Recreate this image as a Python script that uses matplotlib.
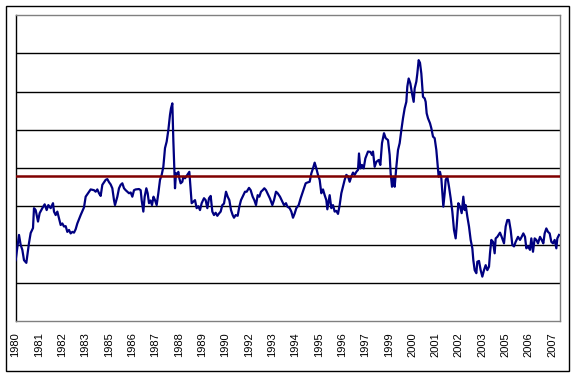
import matplotlib
matplotlib.use("Agg")
import matplotlib.pyplot as plt
from matplotlib.patches import Rectangle

# month offset from start of series, and ratio value
months = [0.1, 2.1, 3.1, 4.1, 5.1, 6.5, 8.1, 9.1, 10.5, 11.1, 12.1, 13.5, 14.5, 16.1, 17.5,
          18.7, 19.7, 21.1, 22.5, 23.1, 24.1, 25.1, 26.1, 27.1, 28.1, 29.1, 30.1, 31.1, 32.1,
          33.1, 34.1, 35.1, 36.1, 37.1, 39.1, 41.1, 42.1, 44.1, 45.1, 47.1, 48.1, 49.1, 50.1,
          51.1, 52.1, 54.1, 55.1, 56.1, 57.1, 58.1, 59.1, 59.7, 61.1, 62.1, 63.1, 64.1, 65.1,
          66.1, 67.1, 68.1, 69.1, 70.1, 71.1, 72.1, 74.1, 75.1, 75.7, 76.7, 77.5, 78.5, 79.3,
          80.1, 81.0, 81.9, 82.8, 83.7, 84.7, 85.7, 86.7, 87.7, 88.7, 89.7, 90.7, 91.7, 92.7,
          93.3, 94.1, 94.7, 95.3, 95.7, 96.3, 97.1, 97.7, 98.3, 99.1, 100.1, 100.7, 101.7,
          103.1, 104.3, 105.1, 105.7, 106.7, 107.7, 108.7, 109.7, 110.7, 111.7, 113.1, 114.1,
          115.1, 116.1, 117.1, 118.1, 119.1, 120.1, 121.1, 122.1, 123.1, 124.1, 125.1, 126.3,
          127.3, 128.3, 129.3, 130.3, 131.1, 132.1, 133.3, 134.3, 135.3, 136.3, 137.7, 138.7,
          140.1, 141.1, 142.3, 143.3, 144.3, 145.3, 146.3, 147.3, 148.3, 149.3, 150.3, 151.7,
          152.7, 154.1, 155.1, 156.3, 157.3, 158.7, 159.7, 161.1, 162.3, 163.1, 164.5, 165.5,
          166.5, 167.5, 168.5, 169.9, 171.1, 172.1, 173.1, 174.1, 175.1, 176.5, 177.5, 178.5,
          179.5, 180.5, 181.5, 182.5, 183.5, 184.5, 185.5, 186.5, 187.1, 188.5, 189.5, 190.5,
          191.5, 192.5, 193.5, 194.5, 195.5, 196.5, 197.5, 198.5, 199.5, 200.5, 201.5, 202.5,
          203.5, 204.5, 205.5, 206.1, 206.9, 207.9, 208.9, 209.9, 211.5, 212.9, 213.9, 214.5,
          215.5, 216.5, 217.9, 218.9, 219.9, 221.1, 222.1, 223.5, 224.5, 225.1, 225.9, 226.9,
          227.5, 228.5, 229.5, 230.5, 231.5, 232.5, 233.5, 234.5, 235.1, 235.9, 236.9, 237.9,
          238.9, 239.5, 240.5, 241.1, 241.9, 242.7, 243.5, 244.5, 245.5, 246.1, 246.7, 247.5,
          248.7, 249.5, 250.5, 251.5, 252.5, 253.1, 253.9, 254.7, 255.5, 256.1, 256.7, 257.5,
          258.1, 259.1, 260.1, 261.1, 262.1, 263.1, 264.1, 264.7, 265.7, 266.7, 267.7, 268.7,
          269.5, 270.1, 271.1, 272.1, 273.1, 274.1, 274.7, 275.5, 276.5, 277.1, 278.1, 279.1,
          280.1, 281.1, 282.1, 283.1, 284.1, 284.7, 285.5, 286.5, 287.5, 288.1, 289.1, 290.7,
          291.7, 293.1, 294.1, 295.1, 296.1, 297.1, 298.1, 299.1, 300.1, 301.5, 302.7, 303.7,
          304.7, 305.7, 306.5, 307.5, 308.7, 309.5, 310.5, 311.5, 312.5, 313.5, 314.7, 315.7,
          316.7, 317.5, 318.5, 319.5, 320.5, 321.5, 322.5, 323.5, 324.5, 325.1, 326.1]

values = [1.59, 2.25, 1.99, 1.86, 1.59, 1.52, 2.04, 2.30, 2.43, 2.95, 2.90, 2.60, 2.82, 2.95, 3.05,
          2.90, 3.03, 2.95, 3.08, 2.86, 2.77, 2.86, 2.68, 2.51, 2.55, 2.47, 2.48, 2.33, 2.38,
          2.29, 2.33, 2.31, 2.40, 2.55, 2.77, 2.97, 3.25, 3.38, 3.44, 3.42, 3.38, 3.44, 3.34,
          3.27, 3.56, 3.69, 3.71, 3.63, 3.57, 3.47, 3.16, 3.03, 3.25, 3.47, 3.56, 3.60, 3.47,
          3.42, 3.38, 3.34, 3.36, 3.25, 3.42, 3.44, 3.45, 3.42, 3.16, 2.86, 3.25, 3.47, 3.34,
          3.08, 3.15, 3.03, 3.25, 3.16, 3.03, 3.34, 3.69, 3.82, 4.03, 4.52, 4.69, 4.99, 5.39,
          5.56, 5.69, 4.73, 3.99, 3.47, 3.86, 3.84, 3.90, 3.73, 3.60, 3.64, 3.77, 3.73,
          3.82, 3.90, 3.42, 3.08, 3.12, 3.16, 2.95, 3.00, 2.90, 3.08, 3.21, 3.16,
          2.95, 3.21, 3.27, 2.86, 2.77, 2.83, 2.75, 2.81, 2.86, 3.03, 3.07, 3.38,
          3.25, 3.16, 2.90, 2.77, 2.70, 2.77, 2.75, 2.99, 3.16, 3.25, 3.38, 3.38,
          3.48, 3.42, 3.25, 3.16, 3.03, 3.29, 3.25, 3.38, 3.42, 3.47, 3.42, 3.29,
          3.20, 3.03, 3.16, 3.38, 3.34, 3.25, 3.16, 3.03, 3.08, 2.99, 2.95, 2.86,
          2.70, 2.81, 2.95, 3.03, 3.21, 3.34, 3.47, 3.60, 3.62, 3.64, 3.86, 3.99,
          4.14, 3.99, 3.82, 3.69, 3.34, 3.44, 3.29, 3.16, 2.92, 3.29, 2.95, 3.03,
          2.86, 2.88, 2.80, 3.03, 3.34, 3.51, 3.69, 3.82, 3.78, 3.64, 3.78, 3.88,
          3.82, 3.90, 3.95, 4.38, 3.99, 4.08, 3.99, 4.25, 4.43, 4.42, 4.34, 4.43,
          4.03, 4.16, 4.21, 4.08, 4.65, 4.91, 4.78, 4.73, 4.34, 3.86, 3.51, 3.77,
          3.51, 4.03, 4.47, 4.65, 4.99, 5.30, 5.56, 5.73, 6.13, 6.34, 6.21, 5.95,
          5.73, 6.08, 6.26, 6.47, 6.82, 6.75, 6.47, 5.86, 5.82, 5.73, 5.43, 5.30,
          5.17, 5.04, 4.82, 4.78, 4.47, 4.16, 3.77, 3.90, 3.73, 3.34, 2.99, 3.34,
          3.69, 3.77, 3.51, 3.21, 2.86, 2.38, 2.16, 2.47, 3.08, 2.99, 2.82, 3.25,
          2.90, 3.03, 2.73, 2.47, 2.12, 1.90, 1.59, 1.33, 1.25, 1.55, 1.57, 1.33,
          1.16, 1.33, 1.46, 1.33, 1.42, 1.77, 2.12, 2.07, 1.77, 2.16, 2.20, 2.31,
          2.20, 2.03, 2.47, 2.64, 2.64, 2.38, 1.99, 1.95, 2.07, 2.20, 2.12, 2.20,
          2.29, 2.20, 1.90, 1.95, 1.86, 2.16, 1.81, 2.16, 2.12, 2.03, 2.20, 2.12,
          2.03, 2.29, 2.42, 2.33, 2.29, 2.07, 2.03, 2.12, 1.90, 2.16, 2.25]

average = 3.80

year_labels = ["1980", "1981", "1982", "1983", "1985", "1986", "1987", "1988", "1989", "1990",
               "1992", "1993", "1994", "1995", "1996", "1997", "1999", "2000", "2001", "2002",
               "2003", "2005", "2006", "2007"]
label_step = 14

fig = plt.figure(figsize=(5.76, 3.77), dpi=100)
fig.patches.append(Rectangle((5.5 / 576, 1 - 370.5 / 377), 563 / 576, 365 / 377,
                             transform=fig.transFigure, fill=False, edgecolor="black",
                             linewidth=1.0))

ax = fig.add_axes([15.5 / 576, 1 - 321 / 377, 544.5 / 576, 306 / 377])
ax.set_xlim(0, 326.7)
ax.set_ylim(0, 8)

for g in range(1, 8):
    ax.axhline(g, color="black", linewidth=1.0, zorder=1)

ax.plot(months, values, color="#000080", linewidth=1.6, zorder=3)
ax.axhline(average, color="#800000", linewidth=1.8, zorder=4)

ax.set_yticks([])
ax.set_xticks([i * label_step for i in range(len(year_labels))])
ax.set_xticklabels(year_labels, rotation=90, fontfamily="Liberation Sans", fontsize=8)
ax.tick_params(axis="x", length=0, pad=8)

for side in ["top", "right", "bottom"]:
    ax.spines[side].set_color("#808080")
ax.spines["left"].set_color("black")
for s in ax.spines.values():
    s.set_linewidth(1.0)

fig.savefig("out.png", dpi=100)
